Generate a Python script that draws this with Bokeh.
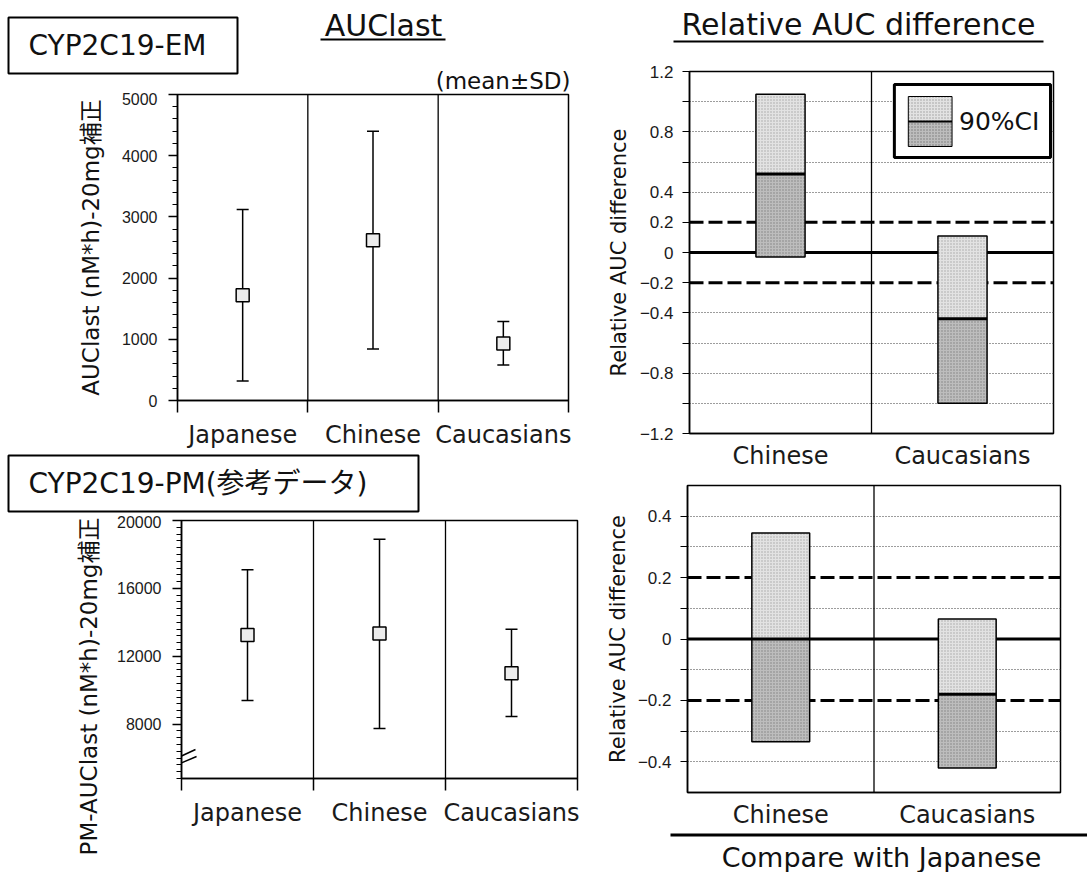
import math
from bokeh.plotting import figure
from bokeh.models import (Label, BoxAnnotation, Span, FixedTicker, Range1d, PolyAnnotation, Title)
from bokeh.layouts import row, column
from bokeh.embed import file_html
from bokeh.resources import INLINE

# ---------------- data ----------------
groups = ["Japanese", "Chinese", "Caucasians"]

em_mean = [1720, 2620, 930]
em_sd_upper = [3120, 4400, 1290]
em_sd_lower = [320, 840, 580]
em_yticks = [0, 1000, 2000, 3000, 4000, 5000]
em_yminor = list(range(0, 5001, 200))

pm_mean = [13250, 13350, 11000]
pm_sd_upper = [17100, 18900, 13600]
pm_sd_lower = [9400, 7750, 8450]
pm_yticks = [8000, 12000, 16000, 20000]
pm_yminor = list(range(4800, 20001, 400))

compare_groups = ["Chinese", "Caucasians"]

em_rel_point = [0.52, -0.44]
em_rel_ci_upper = [1.05, 0.11]
em_rel_ci_lower = [-0.03, -1.00]
em_rel_ticks = [-1.2, -1.0, -0.8, -0.6, -0.4, -0.2, 0.0, 0.2, 0.4, 0.6, 0.8, 1.0, 1.2]
em_rel_labelled = [-1.2, -0.8, -0.4, -0.2, 0.0, 0.2, 0.4, 0.8, 1.2]
em_rel_grid = [-1.0, -0.8, -0.6, -0.4, 0.4, 0.6, 0.8, 1.0]

pm_rel_point = [0.0, -0.18]
pm_rel_ci_upper = [0.345, 0.065]
pm_rel_ci_lower = [-0.335, -0.42]
pm_rel_ticks = [-0.4, -0.3, -0.2, -0.1, 0.0, 0.1, 0.2, 0.3, 0.4]
pm_rel_labelled = [-0.4, -0.2, 0.0, 0.2, 0.4]
pm_rel_grid = [-0.4, -0.3, -0.1, 0.1, 0.3, 0.4]

equivalence_margins = [-0.2, 0.2]
no_difference = 0.0

# ---------------- styling ----------------
LATIN = "DejaVu Sans"
MIXED = "DejaVu Sans, Noto Sans CJK JP"
NUM = "Liberation Sans"
INK = "#111111"


# ---------- header / footer panels (page-pixel coordinates) ----------
def text_panel(x0, y0, w, h):
    p = figure(width=w, height=h, x_range=Range1d(x0, x0 + w), y_range=Range1d(y0 + h, y0),
               min_border_left=0, min_border_right=0, min_border_top=0, min_border_bottom=0,
               output_backend="svg", toolbar_location=None, frame_align=False,
               background_fill_color="white", border_fill_color="white")
    p.axis.visible = False
    p.grid.visible = False
    p.outline_line_color = None
    return p


def put_text(p, x, y, text, size, font=LATIN, align="left", angle=0.0):
    p.add_layout(Label(x=x, y=y, text=text, text_font=font, text_font_size=f"{size}px",
                       text_align=align, text_baseline="middle", text_color=INK,
                       angle=angle, level="overlay"))


def put_box(p, l, t, r, b, lw=1.5, fill=None, hatch=None):
    kw = {}
    if hatch:
        kw = dict(hatch_pattern="dot", hatch_color=hatch, hatch_scale=3, hatch_alpha=0.8)
    p.add_layout(BoxAnnotation(left=l, right=r, top=t, bottom=b,
                               fill_color=fill if fill else "white",
                               fill_alpha=1.0 if fill else 0.0,
                               line_color="black" if lw > 0 else None, line_alpha=1.0,
                               line_width=lw, level="overlay", **kw))


# ---------- chart panels ----------
def base_fig(x0, y0, w, h, frame, cats, y_rng):
    fl, ft, fr, fb = frame
    p = figure(width=w, height=h, x_range=Range1d(0, len(cats)), y_range=Range1d(*y_rng),
               min_border_left=fl - x0, min_border_right=x0 + w - fr,
               min_border_top=ft - y0, min_border_bottom=y0 + h - fb,
               output_backend="svg", toolbar_location=None, frame_align=False,
               background_fill_color="white", border_fill_color="white")
    p.outline_line_color = "black"
    p.outline_line_width = 1.5
    p.xgrid.visible = False
    p.ygrid.visible = False
    return p


def cat_axis(p, cats, size, boundary_ticks):
    xs = [i + 0.5 for i in range(len(cats))]
    minor = list(range(len(cats) + 1)) if boundary_ticks else []
    p.xaxis.ticker = FixedTicker(ticks=xs, minor_ticks=minor)
    p.xaxis.major_label_overrides = {x: c for x, c in zip(xs, cats)}
    p.xaxis.major_tick_line_color = None
    p.xaxis.major_tick_out = 0
    p.xaxis.major_tick_in = 0
    p.xaxis.minor_tick_out = 12 if boundary_ticks else 0
    p.xaxis.minor_tick_in = 0
    p.xaxis.minor_tick_line_color = "black" if boundary_ticks else None
    p.xaxis.minor_tick_line_width = 1.5
    p.xaxis.axis_line_color = "black"
    p.xaxis.axis_line_width = 1.5
    p.xaxis.major_label_text_font = LATIN
    p.xaxis.major_label_text_font_size = f"{size}px"
    p.xaxis.major_label_text_color = "#1a1a1a"
    p.xaxis.major_label_standoff = 8
    for b in range(1, len(cats)):
        p.add_layout(Span(location=b, dimension="height", line_color="black",
                          line_width=1.3, level="underlay"))
    return xs


def y_title(p, text, size, offset, standoff, font=LATIN):
    p.add_layout(Title(text=text, align="center", offset=offset, standoff=standoff,
                       text_font=font, text_font_size=f"{size}px", text_font_style="normal",
                       text_color=INK), "left")


def sd_panel(x0, y0, w, h, frame, means, upper, lower, y_rng, yticks, yminor):
    p = base_fig(x0, y0, w, h, frame, groups, y_rng)
    xs = cat_axis(p, groups, 24, True)
    ya = p.yaxis[0]
    ya.ticker = FixedTicker(ticks=yticks, minor_ticks=yminor)
    ya.major_tick_out = 9
    ya.major_tick_in = 0
    ya.minor_tick_out = 5
    ya.minor_tick_in = 0
    ya.major_tick_line_width = 1.5
    ya.minor_tick_line_width = 1.2
    ya.axis_line_width = 1.5
    ya.major_label_text_font = NUM
    ya.major_label_text_font_size = "16px"
    ya.major_label_text_color = "#1a1a1a"
    ya.major_label_standoff = 11
    p.segment(x0=xs, y0=lower, x1=xs, y1=upper, line_color="black", line_width=1.5)
    p.scatter(xs, upper, marker="dash", size=12, line_color="black", line_width=1.5)
    p.scatter(xs, lower, marker="dash", size=12, line_color="black", line_width=1.5)
    p.scatter(xs, means, marker="square", size=13, fill_color="#ececec",
              line_color="black", line_width=1.5)
    return p


def fmt(v):
    if abs(v) < 1e-9:
        return "0"
    return f"{v:g}".replace("-", "\u2212")


def ci_panel(x0, y0, w, h, frame, point, upper, lower, y_rng, yticks, ylabelled, ygrid, bw):
    p = base_fig(x0, y0, w, h, frame, compare_groups, y_rng)
    xs = cat_axis(p, compare_groups, 24, False)
    ya = p.yaxis[0]
    ya.ticker = FixedTicker(ticks=yticks, minor_ticks=[])
    ya.major_label_overrides = {t: (fmt(t) if t in ylabelled else "") for t in yticks}
    ya.major_tick_out = 7
    ya.major_tick_in = 0
    ya.major_tick_line_width = 1.2
    ya.axis_line_width = 1.5
    ya.major_label_text_font = NUM
    ya.major_label_text_font_size = "17px"
    ya.major_label_text_color = "#1a1a1a"
    ya.major_label_standoff = 9
    p.ygrid.visible = True
    p.ygrid.ticker = FixedTicker(ticks=ygrid)
    p.ygrid.grid_line_color = "#3a3a3a"
    p.ygrid.grid_line_dash = "1 2"
    p.ygrid.grid_line_width = 1
    for m in equivalence_margins:
        p.add_layout(Span(location=m, dimension="width", line_color="black",
                          line_width=3, line_dash="14 5", level="underlay"))
    p.add_layout(Span(location=no_difference, dimension="width", line_color="black",
                      line_width=3, level="underlay"))
    p.vbar(x=xs, bottom=point, top=upper, width=bw, fill_color="#e2e2e2", line_color=None,
           hatch_pattern="dot", hatch_color="#8c8c8c", hatch_scale=3, hatch_alpha=0.7)
    p.vbar(x=xs, bottom=lower, top=point, width=bw, fill_color="#bdbdbd", line_color=None,
           hatch_pattern="dot", hatch_color="#666666", hatch_scale=3, hatch_alpha=0.7)
    p.vbar(x=xs, bottom=lower, top=upper, width=bw, fill_alpha=0.0,
           line_color="black", line_width=1.5)
    p.segment(x0=[x - bw / 2 for x in xs], y0=point, x1=[x + bw / 2 for x in xs], y1=point,
              line_color="black", line_width=3)
    return p


# ---------------- left column ----------------
h1 = text_panel(0, 0, 598, 92)
put_box(h1, 8, 17, 237, 73, lw=2)
put_text(h1, 28, 45, "CYP2C19-EM", 28)
put_text(h1, 383, 25, "AUClast", 30, align="center")
put_box(h1, 320, 38, 445, 40, lw=0, fill="black")
put_text(h1, 570, 80, "(mean±SD)", 23, font=MIXED, align="right")

f1 = sd_panel(0, 92, 598, 359, (177, 94, 568, 415), em_mean, em_sd_upper, em_sd_lower,
              (0, 5000), em_yticks, em_yminor)
y_title(f1, "AUClast (nM*h)-20mg補正", 23, 7, 30, font=MIXED)

h3 = text_panel(0, 451, 598, 64)
put_box(h3, 8, 455, 418, 511, lw=2)
put_text(h3, 28, 483, "CYP2C19-PM(参考データ)", 28, font=MIXED)

yl3 = text_panel(0, 515, 104, 357)
put_text(yl3, 88, 686, "PM-AUClast (nM*h)-20mg補正", 23, font=MIXED, align="center",
         angle=math.pi / 2)

f3 = sd_panel(104, 515, 494, 357, (181, 520, 577, 778), pm_mean, pm_sd_upper, pm_sd_lower,
              (4800, 20000), pm_yticks, pm_yminor)
# axis-break marks (part inside the frame)
f3.add_layout(PolyAnnotation(xs=[0.0, 0.106], ys=[6125, 6508], fill_alpha=0.0,
                             line_color="black", line_alpha=1.0, line_width=1.5))
f3.add_layout(PolyAnnotation(xs=[0.0, 0.114], ys=[5719, 6096], fill_alpha=0.0,
                             line_color="black", line_alpha=1.0, line_width=1.5))

# ---------------- right column ----------------
h2 = text_panel(598, 0, 489, 56)
put_text(h2, 858, 24, "Relative AUC difference", 30, align="center")
put_box(h2, 673, 40, 1043, 42, lw=0, fill="black")

f2 = ci_panel(598, 56, 489, 416, (687, 71, 1053, 433), em_rel_point, em_rel_ci_upper,
              em_rel_ci_lower, (-1.2, 1.2), em_rel_ticks, em_rel_labelled, em_rel_grid, 0.27)
y_title(f2, "Relative AUC difference", 21, 4, 12)


# legend (page px -> data of f2)
def f2x(X):
    return (X - 687) / (1053 - 687) * 2


def f2y(Y):
    return 1.2 - (Y - 71) / (433 - 71) * 2.4


put_box(f2, f2x(893), f2y(84), f2x(1050), f2y(157), lw=3, fill="white")
put_box(f2, f2x(907), f2y(96), f2x(951), f2y(121), lw=1, fill="#e2e2e2", hatch="#8c8c8c")
put_box(f2, f2x(907), f2y(121), f2x(951), f2y(146), lw=1, fill="#bdbdbd", hatch="#666666")
put_box(f2, f2x(907), f2y(120), f2x(951), f2y(122), lw=0, fill="black")
put_text(f2, f2x(958), f2y(121), "90%CI", 25)

f4 = ci_panel(598, 472, 489, 359, (680, 485, 1060, 795), pm_rel_point, pm_rel_ci_upper,
              pm_rel_ci_lower, (-0.5, 0.5), pm_rel_ticks, pm_rel_labelled, pm_rel_grid, 0.31)
y_title(f4, "Relative AUC difference", 21, -10, 10)

h4 = text_panel(598, 831, 489, 41)
put_box(h4, 670, 833, 1087, 836, lw=0, fill="black")
put_text(h4, 881, 857, "Compare with Japanese", 27, align="center")

layout = row(column(h1, f1, h3, row(yl3, f3)), column(h2, f2, f4, h4))
open("out.html", "w").write(file_html(layout, INLINE))
